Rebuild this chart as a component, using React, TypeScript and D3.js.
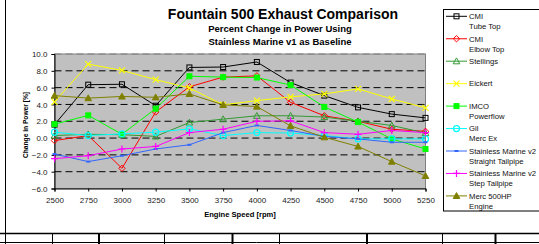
import React, { useEffect, useRef } from "react";
import * as d3 from "d3";

const rpm = [2500, 2750, 3000, 3250, 3500, 3750, 4000, 4250, 4500, 4750, 5000, 5250];
const yTicks = [-6, -4, -2, 0, 2, 4, 6, 8, 10];

const cmiTubeTop = [1.6, 6.35, 6.4, 3.85, 8.4, 8.45, 9.05, 6.6, 5.05, 3.65, 2.85, 2.4];
const cmiElbowTop = [-0.3, 0.3, -3.6, 3.1, 6.1, 7.25, 7.4, 4.25, 2.65, 2.0, 1.05, 0.8];
const stellings = [0.3, 0.45, 0.4, 0.2, 1.85, 2.25, 2.65, 2.65, 2.5, 2.0, 1.5, 0.6];
const eickert = [4.3, 8.8, 8.05, 6.95, 5.95, 3.95, 4.45, 4.9, 5.25, 5.85, 4.65, 3.6];
const imcoPowerflow = [1.65, 2.7, 0.45, 3.5, 7.35, 7.25, 7.2, 6.3, 3.7, 1.9, -0.1, -1.3];
const gilMercEx = [0.7, 0.3, 0.5, 0.7, 1.1, 0.3, 0.65, 0.6, 0.3, -0.1, -0.1, -0.1];
const smStraight = [-1.9, -2.8, -2.1, -1.3, -0.8, 0.65, 1.5, 0.9, 0.2, -0.1, -0.5, -0.5];
const smStep = [-2.45, -2.1, -1.3, -1.0, 0.65, 1.05, 2.0, 2.05, 0.65, 0.45, 0.9, 0.65];
const merc500 = [5.05, 4.75, 4.95, 4.85, 5.25, 3.95, 3.75, 1.45, 0.1, -1.0, -2.8, -4.5];

const seriesNames = [
  ["CMI", "Tube Top"],
  ["CMI", "Elbow Top"],
  ["Stellings"],
  ["Eickert"],
  ["IMCO", "Powerflow"],
  ["Gil", "Merc Ex"],
  ["Stainless Marine v2", "Straight Tailpipe"],
  ["Stainless Marine v2", "Step Tailpipe"],
  ["Merc 500HP", "Engine"],
];
const seriesColors = ["#000000", "#ff0000", "#339933", "#ffff00", "#00ff00", "#00ffff", "#3366ff", "#ff00ff", "#808000"];
const seriesMarkers = ["square", "diamond", "triangle", "x", "squareFilled", "circle", "dash", "plus", "triangleFilled"];
const seriesValues = [cmiTubeTop, cmiElbowTop, stellings, eickert, imcoPowerflow, gilMercEx, smStraight, smStep, merc500];

const FONT = "Arial, 'Liberation Sans', sans-serif";

const drawMarker = (g, type, color, cx, cy) => {
  if (type === "square" || type === "squareFilled") {
    g.append("rect")
      .attr("x", cx - 2.5).attr("y", cy - 2.5)
      .attr("width", 5).attr("height", 5)
      .attr("fill", type === "squareFilled" ? color : "none")
      .attr("stroke", color).attr("stroke-width", 1);
  } else if (type === "diamond") {
    g.append("path")
      .attr("d", `M${cx},${cy - 3.2}L${cx + 3.2},${cy}L${cx},${cy + 3.2}L${cx - 3.2},${cy}Z`)
      .attr("fill", "none").attr("stroke", color);
  } else if (type === "triangle" || type === "triangleFilled") {
    g.append("path")
      .attr("d", `M${cx},${cy - 3.3}L${cx + 3.3},${cy + 2.6}L${cx - 3.3},${cy + 2.6}Z`)
      .attr("fill", type === "triangleFilled" ? color : "none")
      .attr("stroke", color);
  } else if (type === "x") {
    g.append("path")
      .attr("d", `M${cx - 3},${cy - 3}L${cx + 3},${cy + 3}M${cx - 3},${cy + 3}L${cx + 3},${cy - 3}`)
      .attr("stroke", color).attr("stroke-width", 1.2);
  } else if (type === "circle") {
    g.append("circle")
      .attr("cx", cx).attr("cy", cy).attr("r", 3)
      .attr("fill", "none").attr("stroke", color).attr("stroke-width", 1.2);
  } else if (type === "dash") {
    g.append("path")
      .attr("d", `M${cx - 2},${cy}L${cx + 2},${cy}`)
      .attr("stroke", color).attr("stroke-width", 2);
  } else if (type === "plus") {
    g.append("path")
      .attr("d", `M${cx - 3.5},${cy}L${cx + 3.5},${cy}M${cx},${cy - 3.5}L${cx},${cy + 3.5}`)
      .attr("stroke", color).attr("stroke-width", 1.2);
  }
};

const App = () => {
  const svgRef = useRef(null);

  useEffect(() => {
    const svg = d3.select(svgRef.current);
    svg.selectAll("*").remove();

    const left = 54.5, right = 425.5, top = 54, bottom = 188.5;

    const x = d3.scaleLinear().domain([2500, 5250]).range([left, right]);
    const y = d3.scaleLinear().domain([-6, 10]).range([bottom, top]);

    // chart area and sheet cells underneath
    svg.append("rect").attr("x", 0).attr("y", 0).attr("width", 539).attr("height", 244).attr("fill", "#fff");
    svg.append("line").attr("x1", 5.5).attr("x2", 5.5).attr("y1", 0).attr("y2", 233).attr("stroke", "#000");
    svg.append("line").attr("x1", 0).attr("x2", 539).attr("y1", 233.5).attr("y2", 233.5).attr("stroke", "#000").attr("stroke-width", 1.5);
    svg.append("line").attr("x1", 0).attr("x2", 539).attr("y1", 242.5).attr("y2", 242.5).attr("stroke", "#000");
    [[5.5, 1], [52.5, 1], [99, 2], [164.5, 1], [232.5, 2], [279.5, 1], [367, 2], [442.5, 1], [495.5, 2]].forEach(([cx, w]) => {
      svg.append("line").attr("x1", cx).attr("x2", cx).attr("y1", 233).attr("y2", 244).attr("stroke", "#000").attr("stroke-width", w);
    });

    // plot area
    svg.append("rect")
      .attr("x", left).attr("y", top)
      .attr("width", right - left).attr("height", bottom - top)
      .attr("fill", "#c0c0c0").attr("stroke", "#808080");

    svg.append("g")
      .selectAll("line")
      .data(yTicks.filter((d) => d > -6))
      .join("line")
      .attr("x1", left).attr("x2", right)
      .attr("y1", (d) => y(d)).attr("y2", (d) => y(d))
      .attr("stroke", (d) => (d === 10 ? "#808080" : "#000"))
      .attr("stroke-dasharray", "7,4");

    // axes
    const yAxis = svg.append("g")
      .attr("transform", `translate(${left},0)`)
      .call(d3.axisLeft(y).tickValues(yTicks).tickFormat(d3.format(".1f")).tickSize(3).tickPadding(4));
    const xAxis = svg.append("g")
      .attr("transform", `translate(0,${bottom})`)
      .call(d3.axisBottom(x).tickValues(rpm).tickFormat(d3.format("d")).tickSize(3).tickPadding(6));
    [yAxis, xAxis].forEach((a) => {
      a.select(".domain").attr("stroke", "#000");
      a.selectAll(".tick line").attr("stroke", "#000");
      a.selectAll("text").attr("font-family", FONT).attr("font-size", 8).attr("fill", "#222");
    });

    // series
    const line = d3.line().x((d, i) => x(rpm[i])).y((d) => y(d));
    seriesValues.forEach((vals, s) => {
      const g = svg.append("g");
      g.append("path")
        .attr("d", line(vals))
        .attr("fill", "none")
        .attr("stroke", seriesColors[s])
        .attr("stroke-width", 1);
      vals.forEach((v, i) => drawMarker(g, seriesMarkers[s], seriesColors[s], x(rpm[i]), y(v)));
    });

    // titles
    const title = svg.append("g").attr("font-family", FONT).attr("font-weight", "bold").attr("text-anchor", "middle");
    title.append("text").attr("x", 283).attr("y", 19).attr("font-size", 14).text("Fountain 500 Exhaust Comparison");
    title.append("text").attr("x", 280).attr("y", 32).attr("font-size", 9.5).text("Percent Change in Power Using");
    title.append("text").attr("x", 280).attr("y", 44.5).attr("font-size", 9.5).text("Stainless Marine v1 as Baseline");
    title.append("text").attr("x", 240).attr("y", 217).attr("font-size", 7.6).text("Engine Speed [rpm]");
    title.append("text")
      .attr("transform", "translate(27.5,125) rotate(-90)")
      .attr("font-size", 7.6)
      .attr("textLength", 66)
      .attr("lengthAdjust", "spacingAndGlyphs")
      .text("Change in Power [%]");

    // legend
    const legend = svg.append("g");
    legend.append("rect")
      .attr("x", 443.5).attr("y", 9.5)
      .attr("width", 120).attr("height", 201.5)
      .attr("fill", "#fff").attr("stroke", "#000");
    seriesNames.forEach((lines, i) => {
      const ly = 16.3 + i * 22.45;
      legend.append("line")
        .attr("x1", 446).attr("x2", 467)
        .attr("y1", ly).attr("y2", ly)
        .attr("stroke", seriesColors[i]);
      drawMarker(legend, seriesMarkers[i], seriesColors[i], 456.5, ly);
      lines.forEach((t, j) => {
        legend.append("text")
          .attr("x", 469).attr("y", ly + 2.8 + j * 10)
          .attr("font-family", FONT).attr("font-size", 7.7).attr("fill", "#111")
          .text(t);
      });
    });
  }, []);

  return (
    <div style={{ position: "absolute", left: 0, top: 0 }}>
      <svg ref={svgRef} width={539} height={244} style={{ display: "block" }}></svg>
    </div>
  );
};

export default App;
